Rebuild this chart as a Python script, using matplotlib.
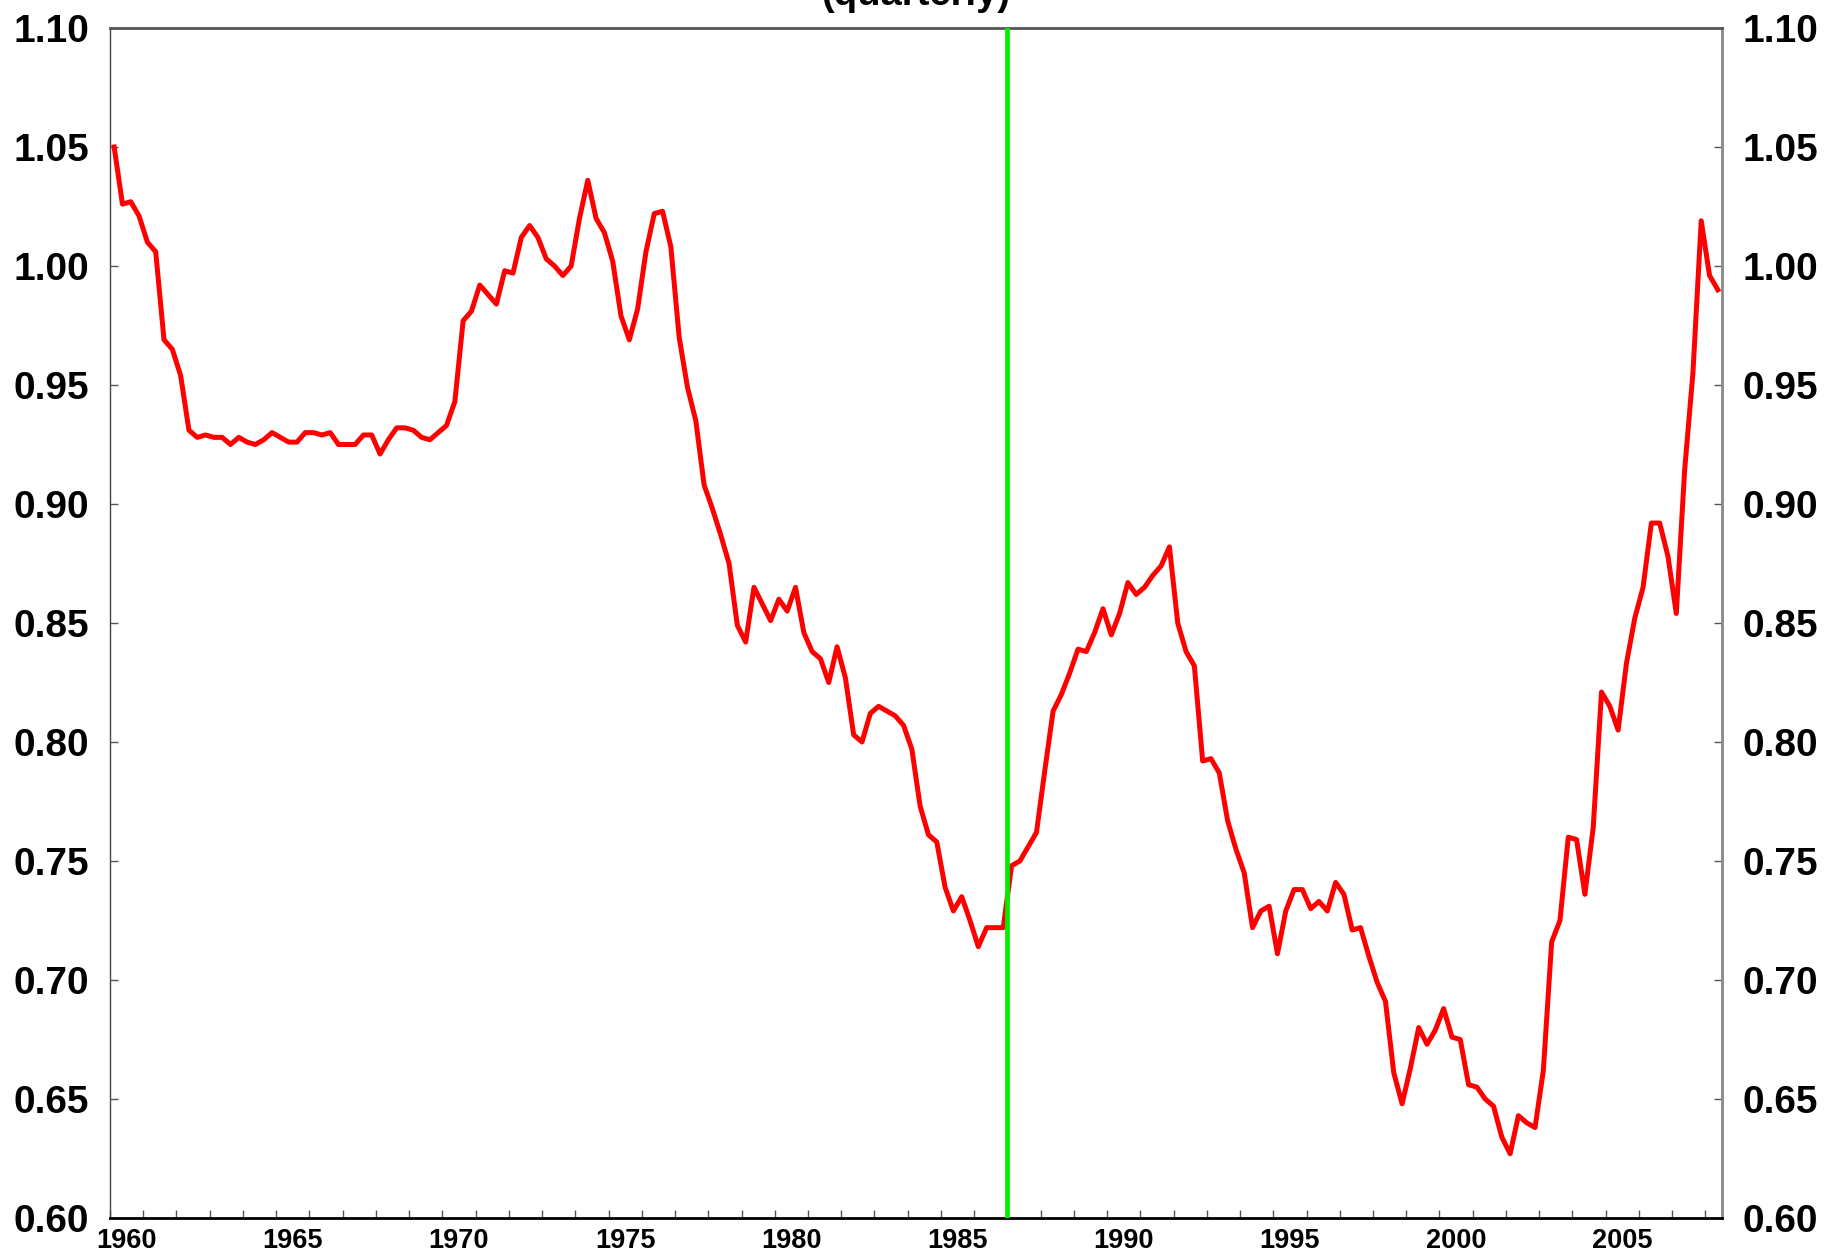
import numpy as np
import pandas as pd
import matplotlib
matplotlib.use("Agg")
import matplotlib.pyplot as plt
from matplotlib.ticker import FixedLocator, FormatStrFormatter

plt.rcParams['font.family'] = ['Liberation Sans', 'DejaVu Sans']
plt.rcParams['font.weight'] = 'bold'

# quarterly values, 1960Q1 .. 2008Q2
values = [
    1.050, 1.026, 1.027, 1.021,   # 1960
    1.010, 1.006, 0.969, 0.965,   # 1961
    0.954, 0.931, 0.928, 0.929,   # 1962
    0.928, 0.928, 0.925, 0.928,   # 1963
    0.926, 0.925, 0.927, 0.930,   # 1964
    0.928, 0.926, 0.926, 0.930,   # 1965
    0.930, 0.929, 0.930, 0.925,   # 1966
    0.925, 0.925, 0.929, 0.929,   # 1967
    0.921, 0.927, 0.932, 0.932,   # 1968
    0.931, 0.928, 0.927, 0.930,   # 1969
    0.933, 0.943, 0.977, 0.981,   # 1970
    0.992, 0.988, 0.984, 0.998,   # 1971
    0.997, 1.012, 1.017, 1.012,   # 1972
    1.003, 1.000, 0.996, 1.000,   # 1973
    1.020, 1.036, 1.020, 1.014,   # 1974
    1.002, 0.979, 0.969, 0.982,   # 1975
    1.006, 1.022, 1.023, 1.008,   # 1976
    0.970, 0.949, 0.935, 0.908,   # 1977
    0.898, 0.887, 0.875, 0.849,   # 1978
    0.842, 0.865, 0.858, 0.851,   # 1979
    0.860, 0.855, 0.865, 0.846,   # 1980
    0.838, 0.835, 0.825, 0.840,   # 1981
    0.827, 0.803, 0.800, 0.812,   # 1982
    0.815, 0.813, 0.811, 0.807,   # 1983
    0.797, 0.773, 0.761, 0.758,   # 1984
    0.739, 0.729, 0.735, 0.725,   # 1985
    0.714, 0.722, 0.722, 0.722,   # 1986
    0.748, 0.750, 0.756, 0.762,   # 1987
    0.788, 0.813, 0.820, 0.829,   # 1988
    0.839, 0.838, 0.846, 0.856,   # 1989
    0.845, 0.854, 0.867, 0.862,   # 1990
    0.865, 0.870, 0.874, 0.882,   # 1991
    0.850, 0.838, 0.832, 0.792,   # 1992
    0.793, 0.787, 0.767, 0.755,   # 1993
    0.745, 0.722, 0.729, 0.731,   # 1994
    0.711, 0.729, 0.738, 0.738,   # 1995
    0.730, 0.733, 0.729, 0.741,   # 1996
    0.736, 0.721, 0.722, 0.710,   # 1997
    0.699, 0.691, 0.661, 0.648,   # 1998
    0.663, 0.680, 0.673, 0.679,   # 1999
    0.688, 0.676, 0.675, 0.656,   # 2000
    0.655, 0.650, 0.647, 0.634,   # 2001
    0.627, 0.643, 0.640, 0.638,   # 2002
    0.662, 0.716, 0.725, 0.760,   # 2003
    0.759, 0.736, 0.764, 0.821,   # 2004
    0.815, 0.805, 0.833, 0.852,   # 2005
    0.865, 0.892, 0.892, 0.878,   # 2006
    0.854, 0.914, 0.955, 1.019,   # 2007
    0.996, 0.990,                 # 2008
]

quarters = pd.period_range('1960Q1', periods=len(values), freq='Q')
# plot each quarter at its mid point
xq = quarters.year + (quarters.quarter - 1) / 4 + 0.125

break_year = 1987.0
year_labels = ['1960', '1965', '1970', '1975', '1980', '1985', '1990', '1995', '2000', '2005']
y_ticks = [0.60, 0.65, 0.70, 0.75, 0.80, 0.85, 0.90, 0.95, 1.00, 1.05, 1.10]

fig = plt.figure(figsize=(18.46, 12.56), dpi=100)
ax = fig.add_axes([110/1846, 1 - 1218/1256, (1722 - 110)/1846, (1218 - 28)/1256])

ax.plot(xq, values, color='#ff0000', lw=3.6, zorder=3)
ax.axvline(break_year, color='#00ee00', lw=3.4, zorder=4)

ax.set_xlim(1960, 2008.5)
ax.set_ylim(0.60, 1.10)

# yearly tick marks, labels centred on the year
ax.xaxis.set_major_locator(FixedLocator(np.arange(1960, 2009)))
ax.xaxis.set_minor_locator(FixedLocator([int(y) + 0.5 for y in year_labels]))
ax.set_xticklabels([], minor=False)
ax.set_xticklabels(year_labels, minor=True)
ax.tick_params(axis='x', which='major', direction='in', length=5.5, width=1, color='#555555')
ax.tick_params(axis='x', which='minor', length=0, pad=7, labelsize=19.5)

ax.set_yticks(y_ticks)
ax.yaxis.set_major_formatter(FormatStrFormatter('%.2f'))
ax.tick_params(axis='y', direction='in', length=5.5, width=1, color='#555555',
               left=True, right=True, labelleft=True, labelright=True,
               labelsize=28, pad=15)

for lab in ax.get_xticklabels(minor=True) + ax.get_yticklabels():
    lab.set_fontweight('bold')

ax.spines['top'].set_color('#555555')
ax.spines['top'].set_linewidth(2)
ax.spines['bottom'].set_color('#000000')
ax.spines['bottom'].set_linewidth(2)
ax.spines['left'].set_color('#444444')
ax.spines['left'].set_linewidth(1)
ax.spines['right'].set_color('#888888')
ax.spines['right'].set_linewidth(2)

# title sits partly above the canvas, as in the source chart
fig.text(916/1846, 1 - 5/1256, '(quarterly)', ha='center', va='baseline',
         fontsize=27.5, fontweight='bold')

fig.savefig('out.png', dpi=100)
